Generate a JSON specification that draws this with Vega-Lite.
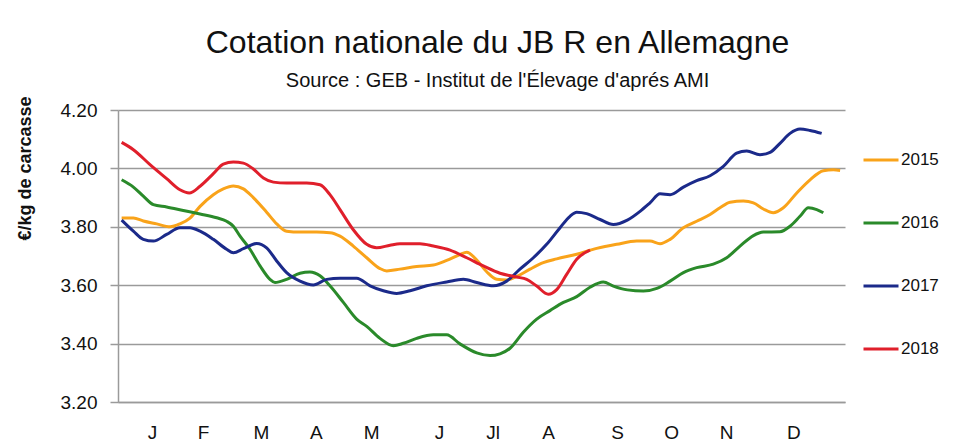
{
"$schema":"https://vega.github.io/schema/vega-lite/v6.json",
"width":727,"height":292,
"autosize":{"type":"none"},
"padding":{"left":118,"top":110,"right":128,"bottom":41},
"background":"white",
"title":{"text":"Cotation nationale du JB R en Allemagne","subtitle":"Source : GEB - Institut de l'Élevage d'aprés AMI","anchor":"middle","font":"Liberation Sans, Arial, sans-serif","subtitleFont":"Liberation Sans, Arial, sans-serif","fontSize":32,"subtitleFontSize":20,"fontWeight":"normal","color":"#111111","subtitleColor":"#111111","offset":4,"subtitlePadding":11,"dx":16},
"data":{"values":[
{"annee":"2015","semaine":0.26,"prix":3.83},{"annee":"2015","semaine":1.1,"prix":3.83},{"annee":"2015","semaine":1.81,"prix":3.82},{"annee":"2015","semaine":2.77,"prix":3.81},{"annee":"2015","semaine":3.72,"prix":3.8},{"annee":"2015","semaine":4.43,"prix":3.81},{"annee":"2015","semaine":5.15,"prix":3.83},{"annee":"2015","semaine":5.87,"prix":3.87},{"annee":"2015","semaine":6.82,"prix":3.91},{"annee":"2015","semaine":7.53,"prix":3.93},{"annee":"2015","semaine":8.25,"prix":3.94},{"annee":"2015","semaine":8.97,"prix":3.93},{"annee":"2015","semaine":9.68,"prix":3.9},{"annee":"2015","semaine":10.63,"prix":3.85},{"annee":"2015","semaine":11.35,"prix":3.81},{"annee":"2015","semaine":12.06,"prix":3.785},{"annee":"2015","semaine":13.02,"prix":3.782},{"annee":"2015","semaine":14.21,"prix":3.782},{"annee":"2015","semaine":15.16,"prix":3.78},{"annee":"2015","semaine":15.88,"prix":3.768},{"annee":"2015","semaine":16.83,"prix":3.734},{"annee":"2015","semaine":17.79,"prix":3.694},{"annee":"2015","semaine":18.74,"prix":3.657},{"annee":"2015","semaine":19.22,"prix":3.649},{"annee":"2015","semaine":20.17,"prix":3.655},{"annee":"2015","semaine":21.36,"prix":3.664},{"annee":"2015","semaine":22.56,"prix":3.669},{"annee":"2015","semaine":23.51,"prix":3.685},{"annee":"2015","semaine":24.46,"prix":3.705},{"annee":"2015","semaine":24.94,"prix":3.713},{"annee":"2015","semaine":25.66,"prix":3.686},{"annee":"2015","semaine":26.37,"prix":3.646},{"annee":"2015","semaine":27.09,"prix":3.62},{"annee":"2015","semaine":27.8,"prix":3.618},{"annee":"2015","semaine":28.52,"prix":3.63},{"annee":"2015","semaine":29.47,"prix":3.655},{"annee":"2015","semaine":30.42,"prix":3.677},{"annee":"2015","semaine":31.38,"prix":3.69},{"annee":"2015","semaine":32.81,"prix":3.706},{"annee":"2015","semaine":34.24,"prix":3.726},{"annee":"2015","semaine":35.67,"prix":3.74},{"annee":"2015","semaine":37.1,"prix":3.751},{"annee":"2015","semaine":38.05,"prix":3.751},{"annee":"2015","semaine":38.77,"prix":3.742},{"annee":"2015","semaine":39.49,"prix":3.757},{"annee":"2015","semaine":40.44,"prix":3.797},{"annee":"2015","semaine":41.39,"prix":3.819},{"annee":"2015","semaine":42.35,"prix":3.842},{"annee":"2015","semaine":43.06,"prix":3.865},{"annee":"2015","semaine":43.78,"prix":3.884},{"annee":"2015","semaine":44.73,"prix":3.888},{"annee":"2015","semaine":45.45,"prix":3.882},{"annee":"2015","semaine":46.16,"prix":3.861},{"annee":"2015","semaine":46.87,"prix":3.848},{"annee":"2015","semaine":47.59,"prix":3.865},{"annee":"2015","semaine":48.55,"prix":3.916},{"annee":"2015","semaine":49.5,"prix":3.961},{"annee":"2015","semaine":50.45,"prix":3.992},{"annee":"2015","semaine":51.17,"prix":3.995},{"annee":"2015","semaine":51.65,"prix":3.993},
{"annee":"2016","semaine":0.26,"prix":3.961},{"annee":"2016","semaine":1.1,"prix":3.936},{"annee":"2016","semaine":1.81,"prix":3.905},{"annee":"2016","semaine":2.53,"prix":3.876},{"annee":"2016","semaine":3.48,"prix":3.868},{"annee":"2016","semaine":4.67,"prix":3.856},{"annee":"2016","semaine":5.87,"prix":3.844},{"annee":"2016","semaine":7.06,"prix":3.831},{"annee":"2016","semaine":7.77,"prix":3.819},{"annee":"2016","semaine":8.25,"prix":3.802},{"annee":"2016","semaine":8.73,"prix":3.768},{"annee":"2016","semaine":9.44,"prix":3.723},{"annee":"2016","semaine":10.16,"prix":3.666},{"annee":"2016","semaine":10.87,"prix":3.62},{"annee":"2016","semaine":11.23,"prix":3.609},{"annee":"2016","semaine":12.06,"prix":3.62},{"annee":"2016","semaine":13.02,"prix":3.641},{"annee":"2016","semaine":13.73,"prix":3.645},{"annee":"2016","semaine":14.45,"prix":3.632},{"annee":"2016","semaine":15.16,"prix":3.598},{"annee":"2016","semaine":16.12,"prix":3.541},{"annee":"2016","semaine":17.07,"prix":3.484},{"annee":"2016","semaine":17.79,"prix":3.459},{"annee":"2016","semaine":18.74,"prix":3.418},{"annee":"2016","semaine":19.69,"prix":3.393},{"annee":"2016","semaine":20.41,"prix":3.401},{"annee":"2016","semaine":21.36,"prix":3.418},{"annee":"2016","semaine":22.56,"prix":3.43},{"annee":"2016","semaine":23.51,"prix":3.43},{"annee":"2016","semaine":24.46,"prix":3.399},{"annee":"2016","semaine":25.66,"prix":3.368},{"annee":"2016","semaine":26.61,"prix":3.359},{"annee":"2016","semaine":27.32,"prix":3.365},{"annee":"2016","semaine":28.04,"prix":3.384},{"annee":"2016","semaine":28.99,"prix":3.439},{"annee":"2016","semaine":29.95,"prix":3.484},{"annee":"2016","semaine":30.9,"prix":3.513},{"annee":"2016","semaine":31.86,"prix":3.541},{"annee":"2016","semaine":32.81,"prix":3.561},{"annee":"2016","semaine":33.76,"prix":3.593},{"annee":"2016","semaine":34.71,"prix":3.611},{"annee":"2016","semaine":35.43,"prix":3.597},{"annee":"2016","semaine":36.43,"prix":3.584},{"annee":"2016","semaine":37.58,"prix":3.58},{"annee":"2016","semaine":38.54,"prix":3.589},{"annee":"2016","semaine":39.49,"prix":3.614},{"annee":"2016","semaine":40.44,"prix":3.643},{"annee":"2016","semaine":41.39,"prix":3.66},{"annee":"2016","semaine":42.58,"prix":3.672},{"annee":"2016","semaine":43.54,"prix":3.694},{"annee":"2016","semaine":44.49,"prix":3.734},{"annee":"2016","semaine":45.45,"prix":3.77},{"annee":"2016","semaine":46.16,"prix":3.782},{"annee":"2016","semaine":47.35,"prix":3.783},{"annee":"2016","semaine":48.07,"prix":3.802},{"annee":"2016","semaine":48.78,"prix":3.836},{"annee":"2016","semaine":49.38,"prix":3.865},{"annee":"2016","semaine":49.98,"prix":3.859},{"annee":"2016","semaine":50.45,"prix":3.848},
{"annee":"2017","semaine":0.26,"prix":3.823},{"annee":"2017","semaine":1.1,"prix":3.785},{"annee":"2017","semaine":1.81,"prix":3.757},{"annee":"2017","semaine":2.53,"prix":3.751},{"annee":"2017","semaine":3.48,"prix":3.774},{"annee":"2017","semaine":4.43,"prix":3.797},{"annee":"2017","semaine":5.15,"prix":3.797},{"annee":"2017","semaine":5.87,"prix":3.785},{"annee":"2017","semaine":6.82,"prix":3.757},{"annee":"2017","semaine":7.77,"prix":3.723},{"annee":"2017","semaine":8.25,"prix":3.711},{"annee":"2017","semaine":8.97,"prix":3.725},{"annee":"2017","semaine":9.92,"prix":3.743},{"annee":"2017","semaine":10.63,"prix":3.728},{"annee":"2017","semaine":11.35,"prix":3.683},{"annee":"2017","semaine":12.06,"prix":3.643},{"annee":"2017","semaine":13.02,"prix":3.614},{"annee":"2017","semaine":13.97,"prix":3.601},{"annee":"2017","semaine":14.93,"prix":3.62},{"annee":"2017","semaine":15.88,"prix":3.624},{"annee":"2017","semaine":17.07,"prix":3.624},{"annee":"2017","semaine":18.03,"prix":3.598},{"annee":"2017","semaine":18.98,"prix":3.581},{"annee":"2017","semaine":19.93,"prix":3.572},{"annee":"2017","semaine":20.89,"prix":3.581},{"annee":"2017","semaine":22.08,"prix":3.598},{"annee":"2017","semaine":23.51,"prix":3.611},{"annee":"2017","semaine":24.7,"prix":3.62},{"annee":"2017","semaine":25.66,"prix":3.609},{"annee":"2017","semaine":26.85,"prix":3.598},{"annee":"2017","semaine":27.8,"prix":3.614},{"annee":"2017","semaine":28.75,"prix":3.655},{"annee":"2017","semaine":29.71,"prix":3.694},{"annee":"2017","semaine":30.66,"prix":3.74},{"annee":"2017","semaine":31.62,"prix":3.797},{"annee":"2017","semaine":32.33,"prix":3.836},{"annee":"2017","semaine":32.81,"prix":3.85},{"annee":"2017","semaine":33.52,"prix":3.845},{"annee":"2017","semaine":34.48,"prix":3.825},{"annee":"2017","semaine":35.43,"prix":3.808},{"annee":"2017","semaine":36.43,"prix":3.823},{"annee":"2017","semaine":37.34,"prix":3.853},{"annee":"2017","semaine":38.05,"prix":3.882},{"annee":"2017","semaine":38.77,"prix":3.913},{"annee":"2017","semaine":39.49,"prix":3.91},{"annee":"2017","semaine":40.44,"prix":3.936},{"annee":"2017","semaine":41.39,"prix":3.958},{"annee":"2017","semaine":42.35,"prix":3.975},{"annee":"2017","semaine":43.3,"prix":4.007},{"annee":"2017","semaine":44.25,"prix":4.052},{"annee":"2017","semaine":44.97,"prix":4.06},{"annee":"2017","semaine":45.92,"prix":4.047},{"annee":"2017","semaine":46.64,"prix":4.055},{"annee":"2017","semaine":47.35,"prix":4.086},{"annee":"2017","semaine":48.07,"prix":4.12},{"annee":"2017","semaine":48.78,"prix":4.135},{"annee":"2017","semaine":49.5,"prix":4.13},{"annee":"2017","semaine":50.33,"prix":4.12},
{"annee":"2018","semaine":0.26,"prix":4.089},{"annee":"2018","semaine":1.1,"prix":4.064},{"annee":"2018","semaine":2.29,"prix":4.013},{"annee":"2018","semaine":3.48,"prix":3.965},{"annee":"2018","semaine":4.43,"prix":3.927},{"annee":"2018","semaine":5.1,"prix":3.916},{"annee":"2018","semaine":5.87,"prix":3.939},{"annee":"2018","semaine":6.82,"prix":3.982},{"annee":"2018","semaine":7.53,"prix":4.015},{"annee":"2018","semaine":8.25,"prix":4.022},{"annee":"2018","semaine":8.97,"prix":4.018},{"annee":"2018","semaine":9.68,"prix":3.998},{"annee":"2018","semaine":10.4,"prix":3.967},{"annee":"2018","semaine":11.11,"prix":3.953},{"annee":"2018","semaine":12.06,"prix":3.95},{"annee":"2018","semaine":13.5,"prix":3.95},{"annee":"2018","semaine":14.45,"prix":3.944},{"annee":"2018","semaine":15.16,"prix":3.91},{"annee":"2018","semaine":15.88,"prix":3.859},{"annee":"2018","semaine":16.83,"prix":3.79},{"annee":"2018","semaine":17.79,"prix":3.74},{"annee":"2018","semaine":18.5,"prix":3.728},{"annee":"2018","semaine":19.46,"prix":3.737},{"annee":"2018","semaine":20.17,"prix":3.742},{"annee":"2018","semaine":21.6,"prix":3.742},{"annee":"2018","semaine":22.56,"prix":3.734},{"annee":"2018","semaine":23.75,"prix":3.72},{"annee":"2018","semaine":24.94,"prix":3.694},{"annee":"2018","semaine":26.13,"prix":3.666},{"annee":"2018","semaine":27.32,"prix":3.641},{"annee":"2018","semaine":28.52,"prix":3.628},{"annee":"2018","semaine":29.23,"prix":3.62},{"annee":"2018","semaine":29.95,"prix":3.597},{"annee":"2018","semaine":30.78,"prix":3.569},{"annee":"2018","semaine":31.38,"prix":3.585},{"annee":"2018","semaine":32.09,"prix":3.637},{"annee":"2018","semaine":32.81,"prix":3.689},{"annee":"2018","semaine":33.76,"prix":3.72}
]},
"mark":{"type":"line","interpolate":"monotone","strokeWidth":3},
"encoding":{
"x":{"field":"semaine","type":"quantitative","scale":{"domain":[0,52],"nice":false,"zero":false},
 "axis":{"title":null,"values":[2.43,6.08,10.23,14.16,18.1,22.96,26.8,30.76,35.7,39.56,43.5,48.3],
 "labelExpr":"['J','F','M','A','M','J','Jl','A','S','O','N','D'][indexof([2.43,6.08,10.23,14.16,18.1,22.96,26.8,30.76,35.7,39.56,43.5,48.3], datum.value)]",
 "ticks":false,"grid":false,"domainColor":"#9a9a9a","domainWidth":1.5,"labelFont":"Liberation Sans, Arial, sans-serif","labelFontSize":19,"labelColor":"#111111","labelPadding":21,"labelOverlap":false,"labelBound":false,"labelFlush":false}},
"y":{"field":"prix","type":"quantitative","scale":{"domain":[3.2,4.2],"nice":false,"zero":false},
 "axis":{"values":[3.2,3.4,3.6,3.8,4.0,4.2],"format":".2f","grid":true,"gridColor":"#9a9a9a","gridWidth":1.5,"domainColor":"#9a9a9a","domainWidth":1.5,"tickColor":"#9a9a9a","tickWidth":1.5,"tickSize":8,
 "labelFont":"Liberation Sans, Arial, sans-serif","labelFontSize":19,"labelColor":"#111111","labelPadding":13,
 "title":"€/kg de carcasse","titleFont":"Liberation Sans, Arial, sans-serif","titleFontSize":18,"titleFontWeight":"bold","titleColor":"#111111","titleAngle":-90,"titleX":-93,"titleY":-14,"titleAlign":"right","titleBaseline":"middle"}},
"color":{"field":"annee","type":"nominal","scale":{"domain":["2015","2016","2017","2018"],"range":["#F9A31A","#2A8A2A","#1B2A8A","#E01F2B"]},
 "legend":{"orient":"none","legendX":744,"legendY":31,"title":null,"direction":"vertical","symbolType":"stroke","symbolSize":1225,"symbolStrokeWidth":3,"labelFont":"Liberation Sans, Arial, sans-serif","labelFontSize":17,"labelColor":"#111111","rowPadding":36,"padding":0,"labelOffset":1}}
},
"config":{"view":{"stroke":null}}
}
